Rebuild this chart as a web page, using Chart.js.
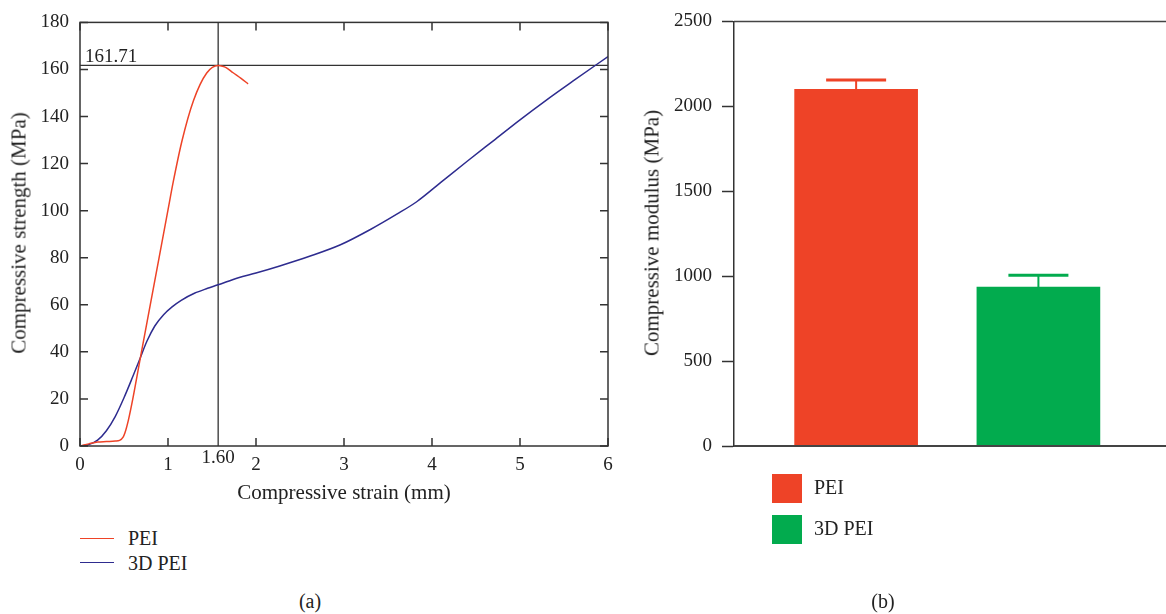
<!DOCTYPE html>
<html>
<head>
<meta charset="utf-8">
<script src="https://cdn.jsdelivr.net/npm/chart.js@4/dist/chart.umd.min.js"></script>
<style>
    body { margin: 0; background: #fff; width: 1166px; height: 614px; overflow: hidden;
           font-family: "Liberation Serif", "DejaVu Serif", serif; color: #222; }
    canvas { position: absolute; top: 0; }
    #strengthChart { left: 0; }
    #modulusChart { left: 640px; }
    .txt { position: absolute; white-space: nowrap; line-height: 1; }
    .ytitle { font-size: 21px; transform: translate(-50%, -50%) rotate(-90deg); }
    .xtitle { font-size: 21px; transform: translate(-50%, -50%); }
    .leg { font-size: 20px; transform: translateY(-50%); }
    .cap { font-size: 20px; transform: translate(-50%, -50%); }
    .lineKey { position: absolute; width: 34px; height: 0; border-top: 1.5px solid; }
    .boxKey { position: absolute; width: 30px; height: 29px; }
</style>
</head>
<body>

<canvas id="strengthChart" width="640" height="520"></canvas>
<canvas id="modulusChart" width="526" height="520"></canvas>

<div class="txt ytitle" style="left:19px; top:233px;">Compressive strength (MPa)</div>
<div class="txt xtitle" style="left:344px; top:492px;">Compressive strain (mm)</div>
<div class="txt ytitle" style="left:652px; top:233px;">Compressive modulus (MPa)</div>

<div class="lineKey" style="left:80px; top:538px; border-color:#EE4327;"></div>
<div class="txt leg" style="left:128px; top:538px;">PEI</div>
<div class="lineKey" style="left:80px; top:562px; border-color:#2E2C8F;"></div>
<div class="txt leg" style="left:128px; top:563px;">3D PEI</div>

<div class="boxKey" style="left:772px; top:474px; background:#EE4327;"></div>
<div class="txt leg" style="left:814px; top:487px;">PEI</div>
<div class="boxKey" style="left:772px; top:515px; background:#02AB4E;"></div>
<div class="txt leg" style="left:814px; top:528px;">3D PEI</div>

<div class="txt cap" style="left:310px; top:601px;">(a)</div>
<div class="txt cap" style="left:883px; top:601px;">(b)</div>

<script>
// =======================
// DATA
// =======================
let strainPEI = [0, 0.1, 0.2, 0.3, 0.4, 0.45, 0.49, 0.51, 0.55, 0.6, 0.69, 0.8, 0.9, 1.0, 1.06, 1.16, 1.29, 1.44, 1.57, 1.62, 1.66, 1.74, 1.83, 1.91];
let stressPEI = [0, 0.9, 1.7, 1.9, 2.1, 2.4, 3.8, 5.5, 11, 20, 38.3, 60.3, 80.3, 100.3, 112.3, 129.8, 146.8, 158.5, 161.71, 161.4, 160.8, 158.6, 156.2, 153.9];

let strain3D = [0, 0.1, 0.2, 0.3, 0.4, 0.5, 0.6, 0.67, 0.76, 0.85, 0.95, 1.05, 1.15, 1.3, 1.45, 1.57, 1.8, 2.0, 2.27, 2.6, 2.96, 3.3, 3.6, 3.83, 4.1, 4.4, 4.7, 5.0, 5.3, 5.6, 6.0];
let stress3D = [0, 0.6, 2.5, 6.5, 12.5, 20.5, 29.5, 36, 44.5, 51, 55.8, 59.2, 61.9, 64.9, 67, 68.5, 71.5, 73.5, 76.5, 80.5, 85.5, 92, 98.5, 103.9, 112, 121, 129.8, 138.6, 147, 155, 165.5];

let peakStress = 161.71;
let peakStrain = 1.57;
let peakStrainLabel = "1.60";

let strainTicks = [0, 1, 2, 3, 4, 5, 6];
let stressTicks = [0, 20, 40, 60, 80, 100, 120, 140, 160, 180];

let samples = ["PEI", "3D PEI"];
let modulus = [2100, 935];
let modulusErr = [55, 70];
let modulusTicks = [0, 500, 1000, 1500, 2000, 2500];

let red = "#EE4327";
let blue = "#2E2C8F";
let green = "#02AB4E";
let ink = "#333";
let tickFont = { family: "Liberation Serif", size: 19 };

function toPoints(xs, ys) {
    return xs.map((x, i) => ({ x: x, y: ys[i] }));
}

function fixTicks(list) {
    return scale => { scale.ticks = list.map(v => ({ value: v })); };
}

// =======================
// LEFT CHART: FRAME, INNER TICKS, PEAK LINES
// =======================
let peakLines = {
    id: "peakLines",
    beforeDatasetsDraw(chart) {
        let { ctx, chartArea: a, scales: { x, y } } = chart;
        let px = x.getPixelForValue(peakStrain);
        let py = y.getPixelForValue(peakStress);
        ctx.save();
        ctx.strokeStyle = ink;
        ctx.lineWidth = 1.3;
        ctx.beginPath();
        ctx.moveTo(a.left, py); ctx.lineTo(a.right, py);
        ctx.moveTo(px, a.top); ctx.lineTo(px, a.bottom);
        ctx.stroke();

        ctx.fillStyle = "#222";
        ctx.font = "19px 'Liberation Serif'";
        ctx.textAlign = "left";
        ctx.textBaseline = "alphabetic";
        ctx.fillText(peakStress.toFixed(2), a.left + 5, py - 3);
        ctx.textAlign = "center";
        ctx.textBaseline = "middle";
        ctx.fillText(peakStrainLabel, px, a.bottom + 12);
        ctx.restore();
    },
    afterDatasetsDraw(chart) {
        let { ctx, chartArea: a, scales: { x, y } } = chart;
        ctx.save();
        ctx.strokeStyle = ink;
        ctx.lineWidth = 1.5;
        ctx.strokeRect(a.left, a.top, a.right - a.left, a.bottom - a.top);
        ctx.beginPath();
        strainTicks.forEach(v => {
            let p = x.getPixelForValue(v);
            ctx.moveTo(p, a.bottom); ctx.lineTo(p, a.bottom - 8);
            ctx.moveTo(p, a.top); ctx.lineTo(p, a.top + 8);
        });
        stressTicks.forEach(v => {
            let p = y.getPixelForValue(v);
            ctx.moveTo(a.left, p); ctx.lineTo(a.left + 8, p);
            ctx.moveTo(a.right, p); ctx.lineTo(a.right - 8, p);
        });
        ctx.stroke();
        ctx.restore();
    }
};

new Chart(document.getElementById("strengthChart"), {
    type: "line",
    data: {
        datasets: [
            { label: "PEI", data: toPoints(strainPEI, stressPEI), borderColor: red, borderWidth: 1.5,
              pointRadius: 0, fill: false, cubicInterpolationMode: "monotone" },
            { label: "3D PEI", data: toPoints(strain3D, stress3D), borderColor: blue, borderWidth: 1.5,
              pointRadius: 0, fill: false, cubicInterpolationMode: "monotone" }
        ]
    },
    options: {
        responsive: false,
        animation: false,
        events: [],
        layout: { padding: { top: 20, right: 32, bottom: 0, left: 0 } },
        plugins: { legend: { display: false }, tooltip: { enabled: false } },
        scales: {
            x: {
                type: "linear", min: 0, max: 6,
                afterBuildTicks: fixTicks(strainTicks),
                afterFit: s => { s.height = 74; },
                grid: { display: false, drawTicks: false },
                border: { display: false },
                ticks: { padding: 8, color: "#222", font: tickFont, maxRotation: 0 }
            },
            y: {
                min: 0, max: 180,
                afterBuildTicks: fixTicks(stressTicks),
                afterFit: s => { s.width = 80; },
                grid: { display: false, drawTicks: false },
                border: { display: false },
                ticks: { padding: 11, color: "#222", font: tickFont }
            }
        }
    },
    plugins: [peakLines]
});

// =======================
// RIGHT CHART: ERROR BARS + AXIS LINES
// =======================
let errorBars = {
    id: "errorBars",
    afterDatasetsDraw(chart) {
        let { ctx, chartArea: a, scales: { y } } = chart;
        let bars = chart.getDatasetMeta(0).data;
        ctx.save();
        bars.forEach((bar, i) => {
            let top = y.getPixelForValue(modulus[i] + modulusErr[i]);
            ctx.strokeStyle = bar.options.backgroundColor;
            ctx.lineWidth = 2;
            ctx.beginPath();
            ctx.moveTo(bar.x, bar.y); ctx.lineTo(bar.x, top);
            ctx.stroke();
            ctx.lineWidth = 3;
            ctx.beginPath();
            ctx.moveTo(bar.x - 30, top); ctx.lineTo(bar.x + 30, top);
            ctx.stroke();
        });
        ctx.strokeStyle = "#444";
        ctx.lineWidth = 2;
        ctx.beginPath();
        ctx.moveTo(a.left, a.bottom); ctx.lineTo(chart.width, a.bottom);
        ctx.stroke();
        ctx.lineWidth = 1.5;
        ctx.beginPath();
        ctx.moveTo(a.left, a.top); ctx.lineTo(chart.width, a.top);
        ctx.stroke();
        ctx.restore();
    }
};

new Chart(document.getElementById("modulusChart"), {
    type: "bar",
    data: {
        datasets: [{
            label: "Compressive modulus",
            data: modulus.map((v, i) => ({ x: i + 1, y: v })),
            backgroundColor: [red, green],
            borderWidth: 0,
            barThickness: 123
        }]
    },
    options: {
        responsive: false,
        animation: false,
        events: [],
        layout: { padding: { top: 20, right: 0, bottom: 74, left: 0 } },
        plugins: { legend: { display: false }, tooltip: { enabled: false } },
        scales: {
            x: { type: "linear", min: 0.33, max: 2.7, offset: false, display: false },
            y: {
                min: 0, max: 2500,
                afterBuildTicks: fixTicks(modulusTicks),
                afterFit: s => { s.width = 94; },
                grid: { drawOnChartArea: false, drawTicks: true, tickLength: 12, tickColor: ink, tickWidth: 1.5 },
                border: { display: true, color: ink, width: 1.5 },
                ticks: { padding: 10, color: "#222", font: tickFont, callback: v => String(v) }
            }
        }
    },
    plugins: [errorBars]
});
</script>
</body>
</html>
